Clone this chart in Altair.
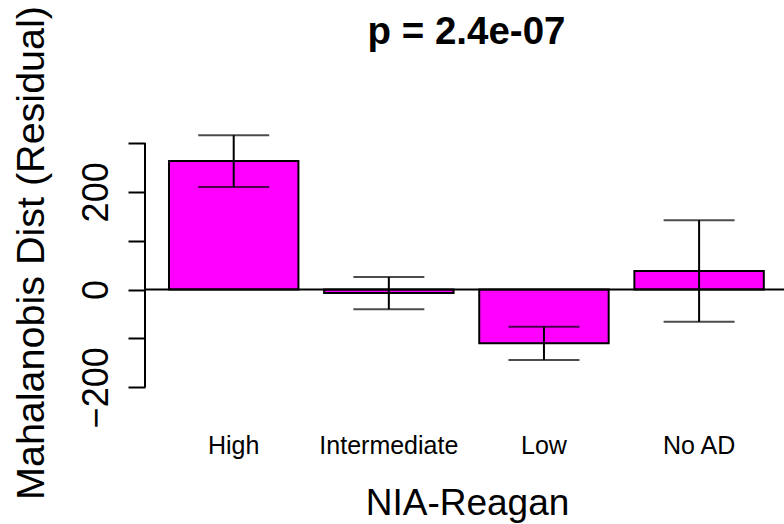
import altair as alt
import pandas as pd

categories = ["High", "Intermediate", "Low", "No AD"]
means = [263, -7, -110, 38]
errors = [53, 33, 34, 104]
y_ticks = [-200, -100, 0, 100, 200, 300]
y_labelled = [-200, 0, 200]

df = pd.DataFrame({"cat": categories, "mean": means, "err": errors})
df["lo"] = df["mean"] - df["err"]
df["hi"] = df["mean"] + df["err"]

FONT = "Liberation Sans"

xscale = alt.Scale(domain=categories, paddingInner=0.1656, paddingOuter=0.1424, align=0.543)
yscale = alt.Scale(domain=[-230, 390], nice=False, zero=False)

xaxis = alt.Axis(
    title="NIA-Reagan", titleFont=FONT, titleFontSize=37, titleFontWeight="normal",
    titleColor="black", titleBaseline="alphabetic", titleAlign="center",
    titleX=322, titleY=112,
    labelFont=FONT, labelFontSize=25, labelColor="black", labelAngle=0,
    labelBaseline="alphabetic", labelPadding=51,
    domain=False, ticks=False, tickSize=0,
)
yaxis = alt.Axis(
    title="Mahalanobis Dist (Residual)", titleFont=FONT, titleFontSize=39.5,
    titleFontWeight="normal", titleColor="black", titleAngle=-90,
    titleBaseline="alphabetic", titleAlign="center", titleX=-102, titleY=153.5,
    values=y_ticks, tickSize=17, tickWidth=2, tickColor="black",
    labelExpr="indexof([" + ",".join(str(v) for v in y_labelled) + "], datum.value) >= 0 ? datum.label : ''",
    labelFont=FONT, labelFontSize=36, labelColor="black", labelAngle=-90,
    labelAlign="center", labelBaseline="alphabetic", labelPadding=21,
    domain=False, grid=False,
)

X = alt.X("cat:N", sort=categories, scale=xscale, axis=xaxis)


def Y(field):
    return alt.Y(field, scale=yscale, axis=yaxis)


base = alt.Chart(df)

bars = base.mark_bar(color="#FF00FF", stroke="black", strokeWidth=2).encode(
    x=X, y=Y("mean:Q"), y2=alt.datum(0),
)

zero = alt.Chart(pd.DataFrame({"z": [0]})).mark_rule(color="black", strokeWidth=2).encode(
    y=Y("z:Q")
)

stems = base.mark_rule(color="black", strokeWidth=2).encode(
    x=X, y=Y("lo:Q"), y2="hi:Q",
)

caps_lo = base.mark_tick(color="black", thickness=2, size=71, orient="horizontal").encode(
    x=X, y=Y("lo:Q"),
)
caps_hi = base.mark_tick(color="black", thickness=2, size=71, orient="horizontal").encode(
    x=X, y=Y("hi:Q"),
)

axis_df = pd.DataFrame({"a": [min(y_ticks)], "b": [max(y_ticks)]})
yline = alt.Chart(axis_df).mark_rule(color="black", strokeWidth=2).encode(
    x=alt.value(0), y=Y("a:Q"), y2="b:Q",
)

chart = alt.layer(bars, zero, stems, caps_lo, caps_hi, yline).properties(
    width=639,
    height=303,
    title=alt.Title("p = 2.4e-07", font=FONT, fontSize=38.5, fontWeight="bold",
                    color="black", anchor="middle", dx=2, dy=77, baseline="alphabetic", offset=0),
    padding={"left": 145, "top": 99, "right": 0, "bottom": 122},
    autosize=alt.AutoSizeParams(type="none"),
).configure(background="white").configure_view(stroke=None)

chart.save("out.html", embed_options={"renderer": "svg", "actions": False})
